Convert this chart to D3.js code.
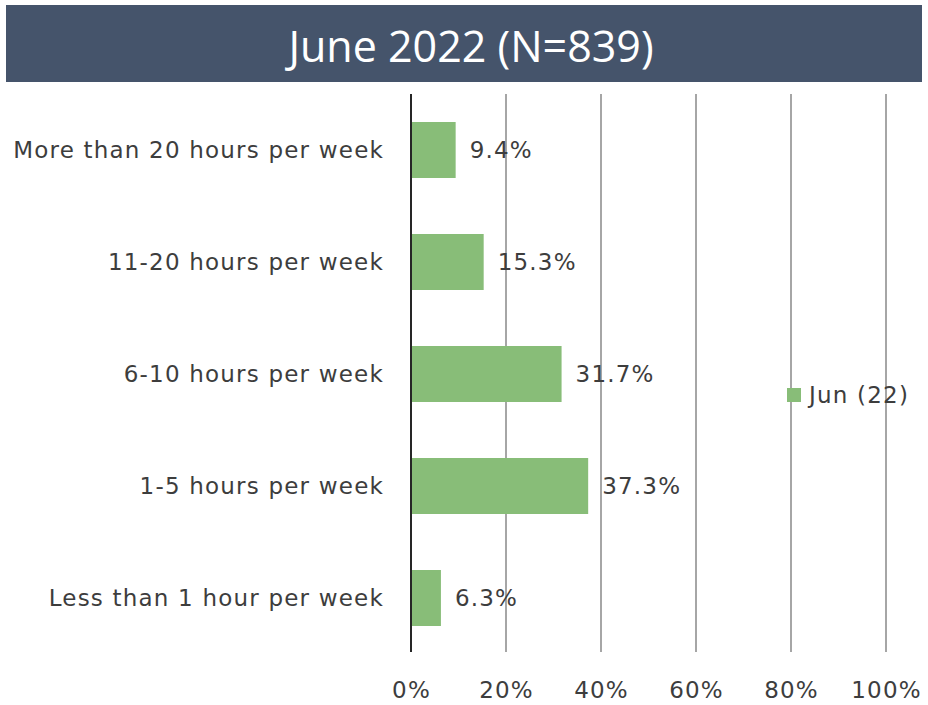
<!DOCTYPE html>
<html>
<head>
<meta charset="utf-8">
<script src="https://cdn.jsdelivr.net/npm/d3@7"></script>
<style>
  body { margin: 0; background: #fff; }
</style>
</head>
<body>
<div id="chart"></div>
<script>
// data
var title = 'June 2022 (N=839)';
var seriesName = 'Jun (22)';
var categories = [
    'More than 20 hours per week',
    '11-20 hours per week',
    '6-10 hours per week',
    '1-5 hours per week',
    'Less than 1 hour per week'
];
var values = [ 9.4, 15.3, 31.7, 37.3, 6.3 ];
var ticks = [ 0, 20, 40, 60, 80, 100 ];

// render
var width = 928;
var height = 705;
var margin = { left: 411, right: 42, top: 94, bottom: 51 };
var labelFont = '"DejaVu Sans", sans-serif';
var labelSize = '23px';
var labelSpacing = '1.2px';
var textColor = '#3d3d3d';

var svg = d3.select( '#chart' )
            .append( 'svg' )
            .attr( 'width', width )
            .attr( 'height', height );

// header
svg.append( 'rect' )
   .attr( 'x', 6 )
   .attr( 'y', 5 )
   .attr( 'width', 916 )
   .attr( 'height', 77 )
   .attr( 'fill', '#45546b' );

svg.append( 'text' )
   .attr( 'x', 471 )
   .attr( 'y', 45 )
   .attr( 'text-anchor', 'middle' )
   .attr( 'dominant-baseline', 'central' )
   .attr( 'fill', '#ffffff' )
   .style( 'font-family', '"Open Sans", sans-serif' )
   .style( 'font-size', '43px' )
   .text( title );

// scales
var x = d3.scaleLinear()
          .domain( [ 0, 100 ] )
          .range( [ margin.left, width - margin.right ] );

var y = d3.scaleBand()
          .domain( categories )
          .range( [ margin.top, height - margin.bottom ] )
          .paddingInner( 0.5 )
          .paddingOuter( 0.25 );

// grid
svg.selectAll( 'line.grid' )
   .data( ticks.slice( 1 ) )
   .enter()
   .append( 'line' )
   .attr( 'class', 'grid' )
   .attr( 'x1', function( d ) { return x( d ); } )
   .attr( 'x2', function( d ) { return x( d ); } )
   .attr( 'y1', margin.top )
   .attr( 'y2', height - margin.bottom - 2 )
   .attr( 'stroke', '#a6a6a6' )
   .attr( 'stroke-width', 2 );

// bars
svg.selectAll( 'rect.bar' )
   .data( values )
   .enter()
   .append( 'rect' )
   .attr( 'class', 'bar' )
   .attr( 'x', x( 0 ) )
   .attr( 'y', function( d, i ) { return y( categories[ i ] ); } )
   .attr( 'width', function( d ) { return x( d ) - x( 0 ); } )
   .attr( 'height', y.bandwidth() )
   .attr( 'fill', '#88bd78' );

// zero axis
svg.append( 'line' )
   .attr( 'x1', x( 0 ) )
   .attr( 'x2', x( 0 ) )
   .attr( 'y1', margin.top )
   .attr( 'y2', height - margin.bottom - 2 )
   .attr( 'stroke', '#262626' )
   .attr( 'stroke-width', 2 );

// value labels
svg.selectAll( 'text.value' )
   .data( values )
   .enter()
   .append( 'text' )
   .attr( 'class', 'value' )
   .attr( 'x', function( d ) { return x( d ) + 14; } )
   .attr( 'y', function( d, i ) { return y( categories[ i ] ) + y.bandwidth() / 2; } )
   .attr( 'dominant-baseline', 'central' )
   .attr( 'fill', textColor )
   .style( 'font-family', labelFont )
   .style( 'font-size', labelSize )
   .style( 'letter-spacing', labelSpacing )
   .text( function( d ) { return d.toFixed( 1 ) + '%'; } );

// category labels
svg.selectAll( 'text.category' )
   .data( categories )
   .enter()
   .append( 'text' )
   .attr( 'class', 'category' )
   .attr( 'x', x( 0 ) - 27 )
   .attr( 'y', function( d ) { return y( d ) + y.bandwidth() / 2; } )
   .attr( 'text-anchor', 'end' )
   .attr( 'dominant-baseline', 'central' )
   .attr( 'fill', textColor )
   .style( 'font-family', labelFont )
   .style( 'font-size', labelSize )
   .style( 'letter-spacing', labelSpacing )
   .text( function( d ) { return d; } );

// x axis
var axis = d3.axisBottom( x )
             .tickValues( ticks )
             .tickSize( 0 )
             .tickPadding( 0 )
             .tickFormat( function( d ) { return d + '%'; } );

var axisGroup = svg.append( 'g' )
                   .attr( 'transform', 'translate(0,' + 690 + ')' )
                   .call( axis );

axisGroup.select( '.domain' ).remove();
axisGroup.selectAll( 'text' )
         .attr( 'y', 0 )
         .attr( 'dy', null )
         .attr( 'dominant-baseline', 'central' )
         .attr( 'fill', textColor )
         .style( 'font-family', labelFont )
         .style( 'font-size', labelSize )
         .style( 'letter-spacing', labelSpacing );

// legend
var legend = svg.append( 'g' )
                .attr( 'transform', 'translate(787,395)' );

legend.append( 'rect' )
      .attr( 'x', 0 )
      .attr( 'y', -7 )
      .attr( 'width', 14 )
      .attr( 'height', 14 )
      .attr( 'fill', '#88bd78' );

legend.append( 'text' )
      .attr( 'x', 22 )
      .attr( 'y', 0 )
      .attr( 'dominant-baseline', 'central' )
      .attr( 'fill', textColor )
      .style( 'font-family', labelFont )
      .style( 'font-size', labelSize )
      .style( 'letter-spacing', labelSpacing )
      .text( seriesName );
</script>
</body>
</html>
